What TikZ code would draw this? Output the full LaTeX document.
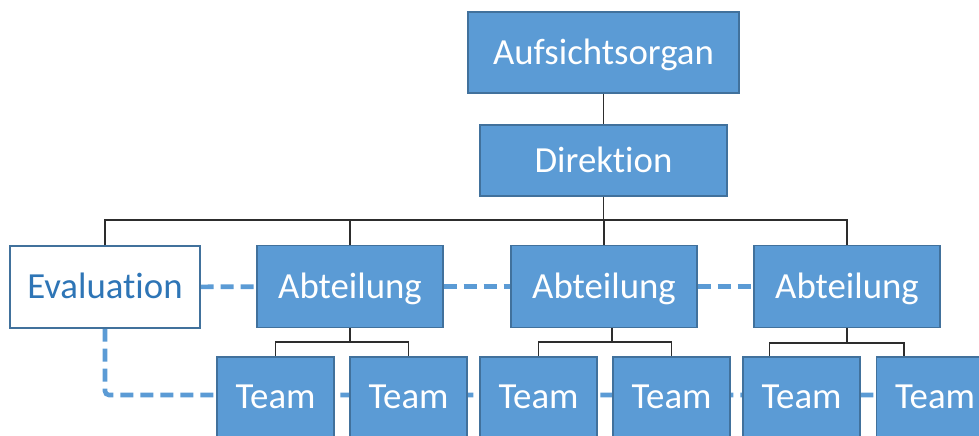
\documentclass[tikz,border=0pt]{standalone}
\usepackage{fontspec}
\setmainfont{Carlito}[Ligatures=CommonOff]
\usepackage{tikz}
\usetikzlibrary{positioning,calc,backgrounds}
\definecolor{boxclr}{RGB}{91,155,213}
\definecolor{edgeclr}{RGB}{65,113,156}
\definecolor{txtclr}{RGB}{46,117,182}
\definecolor{lineclr}{RGB}{45,45,45}
\tikzset{
    org/.style={rectangle,draw=edgeclr,line width=0.6pt,fill=boxclr,
                text=white,font=\fontsize{18.4}{22}\selectfont,
                text height=11.8pt,text depth=0pt,inner sep=0pt},
    evalbox/.style={org,fill=white,text=txtclr,
                minimum width=95pt,minimum height=41pt},
    abt/.style={org,minimum width=93pt,minimum height=41pt},
    team/.style={org,minimum width=58.5pt,minimum height=40pt},
    link/.style={draw=lineclr,line width=0.75pt},
    dlink/.style={draw=boxclr,line width=2.3pt,
                dash pattern=on 6.5pt off 3.5pt},
}
\begin{document}
\begin{tikzpicture}[x=0.5pt,y=-0.5pt]
\useasboundingbox (0,0) rectangle (979,435);
\clip (0,0) rectangle (979,435);
% boxes
\node[org,minimum width=135.5pt,minimum height=40.5pt] (aufs) at (603.5,52.5) {Aufsichtsorgan};
\node[org,minimum width=123.5pt,minimum height=35.5pt] (dir) at (603.5,160.5) {Direktion};
\node[evalbox] (eval) at (105,287) {Evaluation};
\node[abt] (abt1) at (350,286.5) {Abteilung};
\node[abt] (abt2) at (604,286.5) {Abteilung};
\node[abt] (abt3) at (847,286.5) {Abteilung};
\node[team] (t1) at (275.5,397) {Team};
\node[team] (t2) at (408.5,397) {Team};
\node[team] (t3) at (538.5,397) {Team};
\node[team] (t4) at (671.5,397) {Team};
\node[team] (t5) at (801.5,397) {Team};
\node[team] (t6) at (935,397) {Team};
\coordinate (bus) at (603.5,220);
\coordinate (chain) at (979,395);
% hierarchy lines
\draw[link] (aufs) -- (dir);
\draw[link] (dir) -- (bus);
\draw[link] (eval.north) |- (bus) -| (abt3.north);
\draw[link] (abt1.north) -- (abt1.north |- bus);
\draw[link] (abt2.north) -- (abt2.north |- bus);
\draw[link] (abt1.south) -- ++(0,14) -| (t1.north);
\draw[link] (abt1.south) ++(0,14) -| (t2.north);
\draw[link] ($(abt2.south)+(8,0)$) -- ++(0,14) -| (t3.north);
\draw[link] ($(abt2.south)+(8,14)$) -| (t4.north);
\draw[link] (abt3.south) -- ++(0,15) -| ($(t5.north)+(-32,0)$);
\draw[link] ($(abt3.south)+(0,15)$) -| ($(t6.north)+(-31,0)$);
% dashed links
\begin{scope}[on background layer]
\draw[dlink] (eval) -- (abt1);
\draw[dlink] (abt1) -- (abt2);
\draw[dlink] (abt2) -- (abt3);
\draw[dlink,rounded corners=2pt] (eval.south) |- (chain);
\end{scope}
\end{tikzpicture}
\end{document}
